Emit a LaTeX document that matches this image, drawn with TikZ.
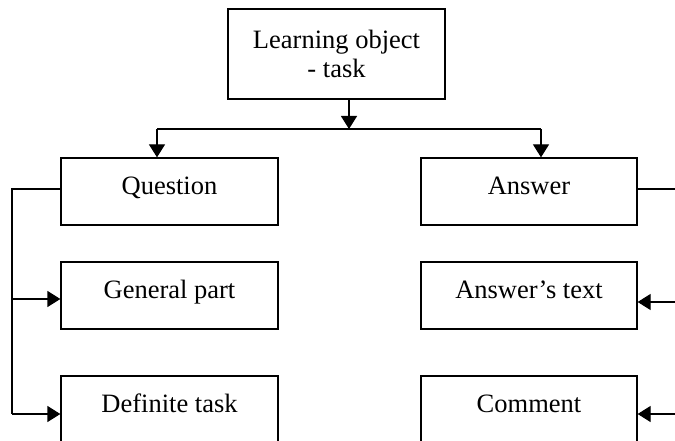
\documentclass[tikz,border=0pt]{standalone}
\usepackage{fontspec}
\setmainfont{Liberation Serif}
\usetikzlibrary{arrows.meta,calc}
\begin{document}
\begin{tikzpicture}[x=1pt,y=-1pt,
  box/.style={draw,line width=1.3pt,inner sep=0pt,minimum width=217pt,minimum height=67pt,
    text height=25pt,text depth=20pt,font=\fontsize{26.5}{30}\selectfont},
  topbox/.style={draw,line width=1.3pt,inner sep=0pt,minimum width=217pt,minimum height=90pt,
    align=center,font=\fontsize{26.5}{29}\selectfont},
  conn/.style={line width=1.3pt},
  arr/.style={line width=1.3pt,-{Triangle[length=13pt,width=16pt]}}]
\useasboundingbox (0,0) rectangle (675,441);
\node[topbox] (lo) at (336.5,54) {Learning object\\- task};
\node[box] (q) at (169.5,191.5) {Question};
\node[box] (g) at (169.5,295.5) {General part};
\node[box] (d) at (169.5,409.5) {Definite task};
\node[box,minimum width=216pt] (a) at (529,191.5) {Answer};
\node[box,minimum width=216pt] (t) at (529,295.5) {Answer’s text};
\node[box,minimum width=216pt] (c) at (529,409.5) {Comment};
% top junctions
\coordinate (j) at (349,129);
\coordinate (jl) at (157,129);
\coordinate (jr) at (541,129);
\draw[arr] (lo.south -| j) -- (j);
\draw[conn] (jl) -- (jr);
\draw[arr] (jl) -- (q.north -| jl);
\draw[arr] (jr) -- (a.north -| jr);
% left side
\coordinate (lq) at (12,189);
\coordinate (lg) at (12,299);
\coordinate (ld) at (12,414);
\draw[conn] (q.west |- lq) -- (lq) -- (ld);
\draw[arr] (lg) -- (g.west |- lg);
\draw[arr] (ld) -- (d.west |- ld);
% right side
\coordinate (ra) at (675,189);
\coordinate (rt) at (675,302);
\coordinate (rc) at (675,414);
\draw[conn] (a.east |- ra) -- (ra);
\draw[arr] (rt) -- (t.east |- rt);
\draw[arr] (rc) -- (c.east |- rc);
\end{tikzpicture}
\end{document}
